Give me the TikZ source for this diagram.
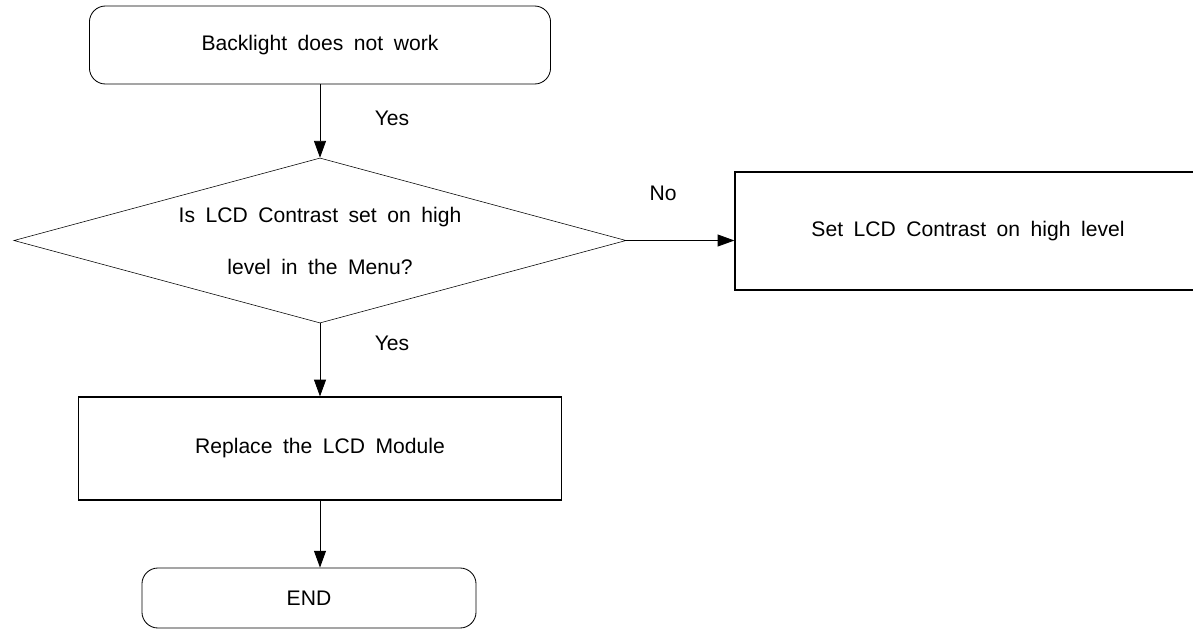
\documentclass[tikz,border=0pt]{standalone}
\usepackage{fontspec}
\setmainfont[WordSpace=1.8]{Liberation Sans}
\usetikzlibrary{shapes.geometric,arrows.meta}
\tikzset{>={Triangle[length=0.42cm,width=0.3cm]}}
\tikzset{
  txt/.style={font=\fontsize{15}{18}\selectfont},
  term/.style={draw,txt,rounded corners=0.4cm,line width=0.6pt},
  proc/.style={draw,txt,line width=0.8pt},
  decide/.style={draw,diamond,txt,align=center,inner sep=0pt,aspect=3.7,line width=0.4pt,
    font=\fontsize{15}{37}\selectfont},
  flow/.style={->,line width=0.6pt}
}

\begin{document}
\begin{tikzpicture}[x=0.025cm,y=-0.025cm]
\useasboundingbox (0,0) rectangle (1193,634);
\node [term,minimum width=11.525cm,minimum height=1.95cm] (start) at (320,45) {Backlight does not work};
\node [decide,minimum width=15.3cm,minimum height=4.125cm] (ask) at (320,240.5) {Is LCD Contrast set on high\\level in the Menu?};
\node [proc,minimum width=11.65cm,minimum height=2.95cm] (setc) at (968,231) {Set LCD Contrast on high level};
\node [proc,minimum width=12.075cm,minimum height=2.575cm] (repl) at (320,448.5) {Replace the LCD Module};
\node [term,minimum width=8.35cm,minimum height=1.5cm] (fin) at (309,598) {END};
% connectors
\draw [flow] (start.south) -- (ask.north);
\draw [flow] (ask.east) -- (ask.east -| setc.west);
\draw [flow] (ask.south) -- (repl.north);
\draw [flow] (repl.south) -- (repl.south |- fin.north);
% labels
\node [txt] (yes1) at (392,118) {Yes};
\node [txt] (no) at (663,193) {No};
\node [txt] (yes2) at (392,343) {Yes};
\end{tikzpicture}
\end{document}
